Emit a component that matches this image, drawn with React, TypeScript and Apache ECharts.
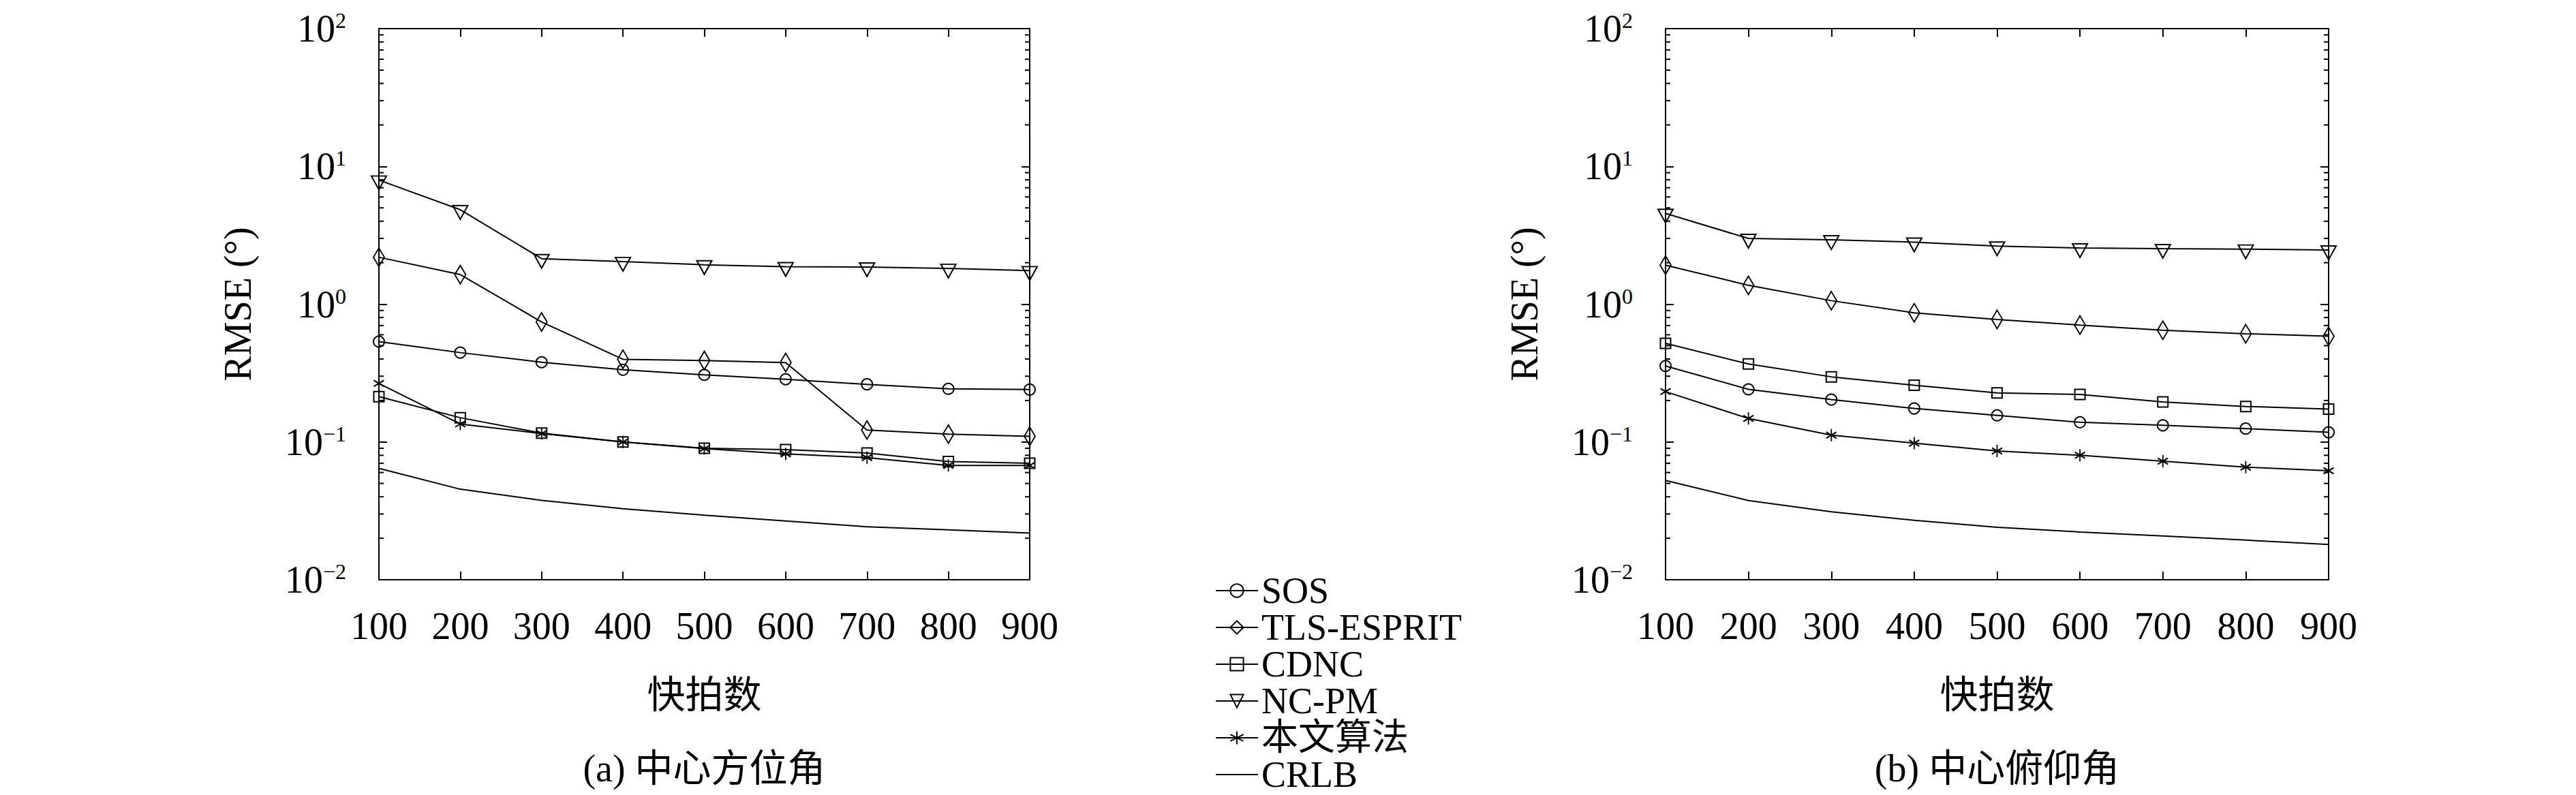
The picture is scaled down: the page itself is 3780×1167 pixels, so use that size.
import React, { useEffect, useRef } from 'react';
import * as echarts from 'echarts';

// ---------- data ----------
const SNAPSHOTS = [100, 200, 300, 400, 500, 600, 700, 800, 900];
const SERIES_NAMES = ['SOS', 'TLS-ESPRIT', 'CDNC', 'NC-PM', '本文算法', 'CRLB'];

// (a) 中心方位角
const SOS_A = [0.535, 0.445, 0.379, 0.334, 0.307, 0.285, 0.262, 0.243, 0.240];
const TLS_A = [2.19, 1.64, 0.743, 0.398, 0.390, 0.377, 0.122, 0.114, 0.110];
const CDNC_A = [0.213, 0.150, 0.116, 0.100, 0.090, 0.088, 0.083, 0.072, 0.070];
const NCPM_A = [7.95, 4.85, 2.14, 2.04, 1.93, 1.87, 1.86, 1.82, 1.75];
const PROP_A = [0.266, 0.135, 0.115, 0.100, 0.0895, 0.082, 0.077, 0.0675, 0.0675];
const CRLB_A = [0.0643, 0.0454, 0.0377, 0.0328, 0.0294, 0.0267, 0.0242, 0.0230, 0.0218];

// (b) 中心俯仰角
const SOS_B = [0.356, 0.241, 0.203, 0.175, 0.156, 0.139, 0.132, 0.125, 0.1175];
const TLS_B = [1.92, 1.37, 1.06, 0.866, 0.775, 0.705, 0.647, 0.61, 0.585];
const CDNC_B = [0.52, 0.368, 0.297, 0.258, 0.227, 0.221, 0.195, 0.181, 0.173];
const NCPM_B = [4.56, 3.0, 2.93, 2.82, 2.64, 2.56, 2.53, 2.51, 2.47];
const PROP_B = [0.232, 0.148, 0.112, 0.098, 0.086, 0.080, 0.0725, 0.0656, 0.0618];
const CRLB_B = [0.0526, 0.0376, 0.0311, 0.027, 0.024, 0.0222, 0.0208, 0.0194, 0.018];

const Y_MIN = 0.01;
const Y_MAX = 100;
const MINOR_TICKS = [0.02, 0.03, 0.04, 0.05, 0.06, 0.07, 0.08, 0.09,
  0.2, 0.3, 0.4, 0.5, 0.6, 0.7, 0.8, 0.9,
  2, 3, 4, 5, 6, 7, 8, 9,
  20, 30, 40, 50, 60, 70, 80, 90];

const X_NAME = '快拍数';
const Y_NAME = 'RMSE (°)';
const CAPTIONS = ['(a) 中心方位角', '(b) 中心俯仰角'];

// ---------- styles ----------
const FONT = "'Liberation Serif', 'Noto Sans CJK SC', serif";
const FS = 56;
const GRIDS = [
  { left: 556, top: 42, width: 955, height: 809 },
  { left: 2444, top: 42, width: 973, height: 809 },
];

const TRI = 'path://M-1,-1L1,-1L0,1Z';
const STAR = 'path://M0,-10L0,10M-8.66,-5L8.66,5M-8.66,5L8.66,-5';

const MARKERS: Record<string, any> = {
  'SOS': { symbol: 'circle', symbolSize: 16 },
  'TLS-ESPRIT': { symbol: 'diamond', symbolSize: [16, 27] },
  'CDNC': { symbol: 'rect', symbolSize: 15 },
  'NC-PM': { symbol: TRI, symbolSize: [22, 20], symbolOffset: [0, 4] },
  '本文算法': { symbol: STAR, symbolSize: [15, 18] },
  'CRLB': { symbol: 'circle', symbolSize: 1, showSymbol: false },
};

const DATASETS = [
  [SOS_A, TLS_A, CDNC_A, NCPM_A, PROP_A, CRLB_A],
  [SOS_B, TLS_B, CDNC_B, NCPM_B, PROP_B, CRLB_B],
];

function buildOption() {
  const axisLine = { show: true, onZero: false, lineStyle: { color: '#000', width: 2 } };
  const tick = { show: true, inside: true, length: 12, lineStyle: { color: '#000', width: 2 } };
  const xAxis: any[] = [];
  const yAxis: any[] = [];
  const series: any[] = [];

  GRIDS.forEach((g, gi) => {
    xAxis.push({
      type: 'value', gridIndex: gi, min: 100, max: 900, interval: 100,
      axisLine, axisTick: tick, splitLine: { show: false },
      axisLabel: { fontSize: FS, fontFamily: FONT, color: '#000', margin: 40 },
      name: X_NAME, nameLocation: 'middle', nameGap: 140,
      nameTextStyle: { fontSize: FS, fontFamily: FONT, color: '#000', lineHeight: 58 },
    });
    xAxis.push({
      type: 'value', gridIndex: gi, min: 100, max: 900, interval: 100, position: 'top',
      axisLine, axisTick: tick, splitLine: { show: false }, axisLabel: { show: false },
    });
    yAxis.push({
      type: 'log', logBase: 10, gridIndex: gi, min: Y_MIN, max: Y_MAX, splitNumber: 4,
      axisLine, axisTick: tick, splitLine: { show: false },
      axisLabel: {
        margin: 48, color: '#000',
        formatter: (v: number) => {
          const e = Math.round(Math.log10(v));
          return `{b|10}{s|${e < 0 ? '\u2212' + -e : e}}`;
        },
        rich: {
          b: { fontSize: FS, fontFamily: FONT, color: '#000', lineHeight: 56 },
          s: { fontSize: 32, fontFamily: FONT, color: '#000', lineHeight: 38, verticalAlign: 'top' },
        },
      },
      name: Y_NAME, nameLocation: 'middle', nameGap: 178, nameRotate: 90,
      nameTextStyle: { fontSize: FS, fontFamily: FONT, color: '#000', lineHeight: 58 },
    });
    yAxis.push({
      type: 'log', logBase: 10, gridIndex: gi, min: Y_MIN, max: Y_MAX, splitNumber: 4, position: 'right',
      axisLine, axisTick: tick, splitLine: { show: false }, axisLabel: { show: false },
    });

    const xi = gi * 2;
    const yi = gi * 2;
    SERIES_NAMES.forEach((name, si) => {
      const m = MARKERS[name];
      const vals = DATASETS[gi][si];
      series.push({
        type: 'line', name, xAxisIndex: xi, yAxisIndex: yi,
        data: SNAPSHOTS.map((x, i) => [x, vals[i]]),
        symbol: m.symbol, symbolSize: m.symbolSize, symbolOffset: m.symbolOffset || [0, 0],
        showSymbol: m.showSymbol !== false,
        lineStyle: { color: '#000', width: 2 },
        itemStyle: name === 'CRLB'
          ? { color: 'transparent', borderColor: 'transparent', borderWidth: 0 }
          : { color: 'transparent', borderColor: '#000', borderWidth: 2 },
        emphasis: { disabled: true },
        silent: true, z: 3,
      });
    });
    series.push({
      type: 'custom', name: 'minor' + gi, xAxisIndex: xi, yAxisIndex: yi, silent: true, z: 4,
      data: MINOR_TICKS.map((v) => [100, v]),
      renderItem: (params: any, api: any) => {
        const v = api.value(1);
        const l = api.coord([100, v]);
        const r = api.coord([900, v]);
        const st = { stroke: '#000', lineWidth: 2 };
        return {
          type: 'group',
          children: [
            { type: 'line', shape: { x1: l[0], y1: l[1], x2: l[0] + 7, y2: l[1] }, style: st },
            { type: 'line', shape: { x1: r[0], y1: r[1], x2: r[0] - 7, y2: r[1] }, style: st },
          ],
        };
      },
    });
  });

  return {
    animation: false,
    backgroundColor: '#fff',
    grid: GRIDS.map((g) => ({ ...g, show: false, containLabel: false })),
    xAxis, yAxis, series,
    legend: {
      data: SERIES_NAMES, orient: 'vertical', left: 1783, top: 840, height: 420, width: 600, padding: 0,
      itemWidth: 62, itemHeight: 24, itemGap: 0, selectedMode: false,
      textStyle: { fontSize: 54, fontFamily: FONT, color: '#000', lineHeight: 54 },
    },
    graphic: CAPTIONS.map((c, i) => ({
      type: 'text',
      x: GRIDS[i].left + GRIDS[i].width / 2,
      y: 1128,
      style: {
        text: c, fontSize: FS, fontFamily: FONT, fill: '#000',
        align: 'center', verticalAlign: 'middle',
      },
    })),
  };
}

export default function App() {
  const ref = useRef<HTMLDivElement>(null);
  useEffect(() => {
    document.body.style.margin = '0';
    const chart = echarts.init(ref.current as HTMLDivElement, null, { renderer: 'svg' });
    chart.setOption(buildOption() as any);
    return () => chart.dispose();
  }, []);
  return <div ref={ref} style={{ width: 3780, height: 1167, position: 'absolute', left: 0, top: 0 }} />;
}
